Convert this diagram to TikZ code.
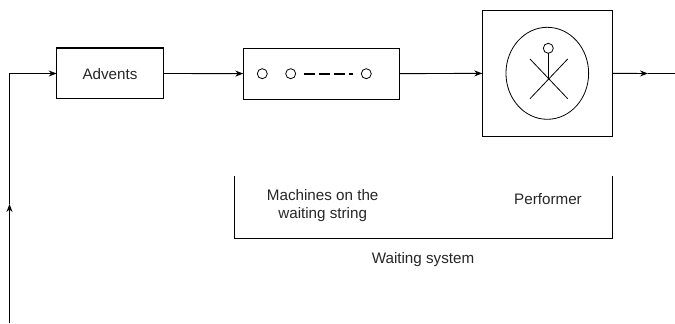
\documentclass[tikz,border=0pt]{standalone}
\usepackage{fontspec}
\setmainfont{Liberation Sans}
\usepackage{tikz}
\usetikzlibrary{calc, positioning, arrows.meta, shapes.geometric}
\tikzstyle{box}=[draw, shape=rectangle, line width=.8pt, inner sep=0pt, outer sep=0pt]
\tikzstyle{token}=[draw, shape=circle, line width=.6pt, inner sep=0pt, outer sep=0pt, minimum size=7.5pt]
\tikzstyle{lbl}=[inner sep=0pt, font=\fontsize{11.4}{13.5}\selectfont, text=black!85, align=center]
\tikzstyle{flow}=[line width=.7pt]
\tikzset{>={Stealth[length=6pt, width=4.5pt]}}

\begin{document}
\begin{tikzpicture}[x=.75pt, y=-.75pt]
\useasboundingbox (0,0) rectangle (675,324);
\node[box, minimum width=80pt, minimum height=38.2pt] (Adv) at (110,73.5) {};
\node[lbl] (AdvT) at (110,74) {Advents};
\node[box, minimum width=117pt, minimum height=38.2pt] (Q) at (321.3,73.6) {};
\node[token] (T1) at (262.3,73.7) {};
\node[token] (T2) at (290.7,73.7) {};
\node[token] (T3) at (366.3,73.7) {};
\node[box, minimum width=97.5pt, minimum height=95pt] (Perf) at (547.3,73.4) {};
\node[draw, shape=ellipse, line width=.6pt, inner sep=0pt, outer sep=0pt, minimum width=62pt, minimum height=69pt] (Oval) at (547.3,73.3) {};
\node[token] (Head) at (548.3,48.3) {};
\coordinate (Hip) at (548.3,79);
\coordinate (LA) at (530,59);
\coordinate (RL) at (567.7,98.7);
\coordinate (RA) at (567.7,59);
\coordinate (LL) at (530,98.7);
\coordinate (S) at (9.5,323);
\coordinate (M) at (9.5,204);
\coordinate (K) at (9.5,73.5);
\coordinate (OM) at (648,73.5);
\coordinate (O) at (675,73.5);
\coordinate (D1) at (304,73.7);
\coordinate (D2) at (353,73.7);
\coordinate (B1) at (234,176);
\coordinate (B2) at (234,238.5);
\coordinate (B3) at (612.3,238.5);
\coordinate (B4) at (612.3,176);
\draw[flow, ->] (S) -- (M);
\draw[flow, ->] (M) -- (K) -- (Adv.west);
\draw[flow, ->] (Adv.east) -- (Q.west);
\draw[flow, ->] (Q.east) -- (Perf.west);
\draw[flow, ->] (Perf.east) -- (OM);
\draw[flow] (OM) -- (O);
\draw[line width=1.4pt, dash pattern=on 8.2pt off 3pt] (D1) -- (D2);
\draw[line width=.6pt] (Head) -- (Hip);
\draw[line width=.6pt] (LA) -- (RL);
\draw[line width=.6pt] (RA) -- (LL);
\draw[line width=.7pt] (B1) -- (B2) -- (B3) -- (B4);
\node[lbl] (Mach) at (322.7,205.5) {Machines on the\\waiting string};
\node[lbl] (PerfT) at (548,199.5) {Performer};
\node[lbl] (Sys) at (423,260) {Waiting system};
\end{tikzpicture}
\end{document}
